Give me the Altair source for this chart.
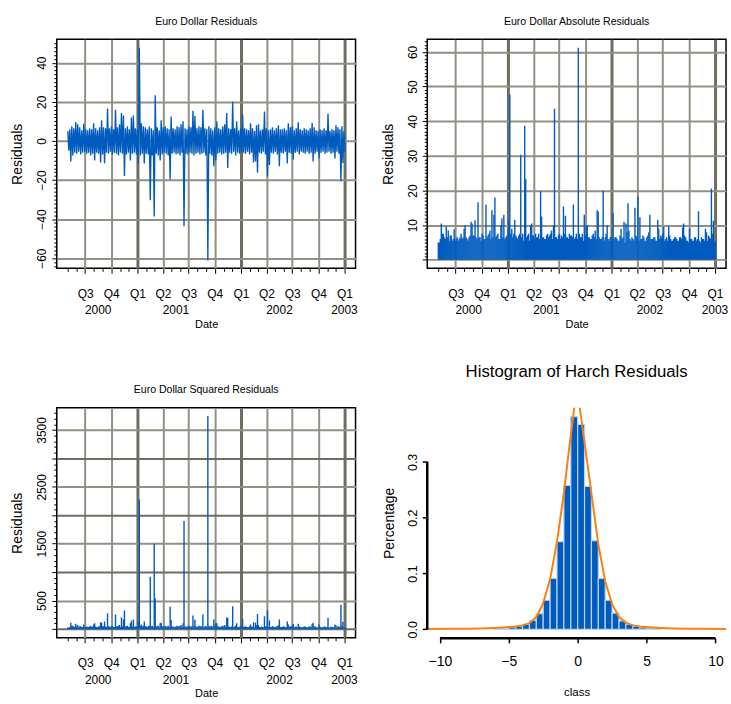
import altair as alt
import pandas as pd

NARROW = "Liberation Sans, Arial, sans-serif"
REGULAR = "Liberation Sans, Arial, sans-serif"
BLUE = "#005bbf"
ORANGE = "#f7820f"
GRID_Q = "#909085"
GRID_Y = "#6d6d62"

# ---------------- data ----------------
# weekly envelope of the Euro Dollar residuals (high, low), weeks from series_start
series_start = "2000-05-01"
week_high = [
    5.0, 6.0, 7.5, 6.5, 9.7, 8.5, 7.0, 5.5, 8.8, 6.0,
    5.5, 6.5, 6.0, 9.0, 6.5, 5.5, 7.0, 10.5, 7.0, 6.5,
    16.6, 6.5, 7.5, 6.0, 16.0, 7.0, 8.5, 14.3, 13.0, 6.5,
    7.5, 6.0, 12.0, 13.0, 6.5, 6.0, 47.7, 9.0, 7.5, 7.0,
    6.0, 7.5, 6.5, 5.5, 23.3, 7.0, 5.5, 10.5, 7.0, 7.5,
    6.5, 6.0, 12.5, 6.5, 6.0, 7.5, 7.0, 8.5, 10.0, 6.5,
    6.0, 7.5, 7.0, 15.4, 12.7, 6.5, 7.5, 7.0, 16.0, 6.5,
    6.0, 7.5, 6.5, 5.5, 7.0, 10.0, 6.5, 6.0, 7.5, 8.5,
    14.3, 6.5, 6.0, 20.0, 6.5, 10.0, 5.5, 6.5, 13.5, 6.5,
    6.0, 5.5, 9.0, 6.5, 5.0, 8.0, 8.5, 5.5, 6.0, 15.0,
    6.5, 5.5, 6.0, 7.0, 5.5, 6.5, 8.0, 6.0, 6.0, 6.5,
    5.5, 9.0, 7.0, 7.5, 5.5, 6.5, 9.6, 6.0, 5.5, 6.5,
    6.0, 5.5, 6.5, 9.3, 7.0, 5.5, 5.0, 6.0, 5.5, 6.5,
    5.5, 14.0, 5.0, 6.0, 5.5, 8.0, 7.0, 6.0, 7.5, 5.0,
]
week_low = [
    -5.0, -10.5, -7.5, -6.0, -6.5, -5.5, -7.0, -6.0, -5.5, -6.5,
    -6.0, -7.5, -6.5, -10.0, -6.0, -6.5, -11.0, -7.0, -11.4, -6.0,
    -6.5, -5.5, -7.0, -6.0, -6.5, -7.5, -6.0, -6.5, -18.0, -7.0,
    -6.0, -10.0, -6.5, -6.0, -7.0, -11.4, -7.5, -6.5, -11.5, -6.5,
    -7.0, -30.3, -7.5, -38.7, -6.5, -7.5, -10.0, -7.0, -6.0, -6.5,
    -7.5, -19.8, -6.5, -6.0, -7.0, -6.5, -7.5, -6.0, -43.6, -6.5,
    -7.0, -6.0, -6.5, -7.5, -6.5, -6.0, -7.0, -6.5, -6.0, -7.5,
    -61.2, -6.5, -7.5, -13.0, -10.0, -6.5, -6.0, -7.0, -6.5, -6.0,
    -13.9, -6.0, -6.5, -5.5, -7.5, -6.0, -6.5, -5.5, -6.0, -6.5,
    -5.5, -7.0, -6.0, -11.0, -10.5, -16.3, -6.0, -6.5, -5.5, -7.0,
    -18.2, -12.3, -6.0, -6.5, -5.5, -7.0, -13.0, -6.0, -6.5, -5.5,
    -11.5, -6.0, -6.5, -9.5, -6.0, -5.5, -7.0, -5.5, -6.0, -6.5,
    -5.5, -6.5, -6.0, -10.5, -6.5, -5.5, -9.0, -6.0, -5.5, -6.5,
    -6.0, -5.5, -6.5, -6.0, -9.0, -5.5, -6.5, -20.6, -11.3, -5.5,
]

x_domain = ["2000-03-23", "2003-02-09"]
month_tick_start = "2000-05-01"
month_tick_end = "2003-01-01"
quarter_ticks = ["2000-07-01", "2000-10-01", "2001-01-01", "2001-04-01", "2001-07-01",
                 "2001-10-01", "2002-01-01", "2002-04-01", "2002-07-01", "2002-10-01",
                 "2003-01-01"]
year_labels = ["2000", "2001", "2002", "2003"]

resid_domain = [-65.2, 52.0]
abs_domain = [-2.45, 63.65]
sq_domain = [-155, 3890]

# histogram of HARCH residuals
bin_width = 0.5
hist_start = [-6.0, -5.5, -5.0, -4.5, -4.0, -3.5, -3.0, -2.5, -2.0, -1.5, -1.0, -0.5,
              0.0, 0.5, 1.0, 1.5, 2.0, 2.5, 3.0, 3.5, 4.0, 4.5, 5.0, 5.5]
hist_pct = [0.001, 0.002, 0.004, 0.005, 0.009, 0.016, 0.028, 0.052, 0.091, 0.157, 0.258, 0.381,
            0.367, 0.256, 0.159, 0.091, 0.052, 0.029, 0.015, 0.009, 0.005, 0.003, 0.002, 0.001]
dens_x = [-10.9, -9.0, -8.0, -7.0, -6.0, -5.0, -4.5, -4.0, -3.5, -3.0, -2.5, -2.0, -1.5, -1.0,
          -0.6, -0.24, 0.0, 0.14, 0.5, 1.0, 1.5, 2.0, 2.5, 3.0, 3.5, 4.0, 4.5, 5.0, 6.0, 7.0,
          8.0, 9.0, 10.8]
dens_y = [0.0005, 0.0008, 0.001, 0.0015, 0.0025, 0.004, 0.005, 0.007, 0.011, 0.022, 0.047,
          0.090, 0.157, 0.245, 0.328, 0.399, 0.400, 0.399, 0.335, 0.243, 0.152, 0.086, 0.045,
          0.022, 0.012, 0.007, 0.005, 0.004, 0.0025, 0.0015, 0.001, 0.0008, 0.0005]
hist_xdomain = [-10.92, 10.77]
hist_ydomain = [-0.0153, 0.397]
hist_xticks = [-10, -5, 0, 5, 10]
hist_yticks = [0.0, 0.1, 0.2, 0.3]

# ---------------- tables ----------------
ISO = "%Y-%m-%dT%H:%M:%SZ"
t0 = pd.Timestamp(series_start)
rows = []
for i, (h, l) in enumerate(zip(week_high, week_low)):
    rows.append({"t": (t0 + pd.Timedelta(days=7 * i)).strftime(ISO), "r": h})
    rows.append({"t": (t0 + pd.Timedelta(days=7 * i + 3.5)).strftime(ISO), "r": l})
ts_df = pd.DataFrame(rows)

qt = pd.to_datetime(quarter_ticks)
year_df = pd.DataFrame({
    "t": [qt[qt.year == int(y)].mean().strftime(ISO) for y in year_labels],
    "label": year_labels,
})

hist_df = pd.DataFrame({"start": hist_start,
                        "end": [s + bin_width for s in hist_start],
                        "pct": hist_pct})
dens_df = pd.DataFrame({"x": dens_x, "y": dens_y})

W, H1, H2 = 300, 230, 231


def dt(s):
    ts = pd.Timestamp(s)
    return alt.DateTime(year=ts.year, month=ts.month, date=ts.day, utc=True)


x_dom = [dt(x_domain[0]), dt(x_domain[1])]
month_vals = [dt(d) for d in pd.date_range(month_tick_start, month_tick_end, freq="MS")]

QTEST = "utcmonth(datum.value) % 3 == 0"
YTEST = "utcmonth(datum.value) == 0"


def time_axis():
    return alt.Axis(
        values=month_vals, title="Date", titleFont=NARROW, titleFontSize=11,
        titleFontWeight="normal", titleColor="black", titleY=56, titleBaseline="middle",
        labelExpr=f"({QTEST}) ? 'Q' + utcquarter(datum.value) : ''",
        labelFont=NARROW, labelFontSize=12, labelColor="black", labelPadding=15,
        labelOverlap=False, labelFlush=False,
        domain=False, ticks=True, tickColor="black", tickWidth=1,
        tickSize={"condition": {"test": QTEST, "value": 5}, "value": 3},
        grid=True,
        gridColor={"condition": {"test": YTEST, "value": GRID_Y}, "value": GRID_Q},
        gridWidth={"condition": {"test": YTEST, "value": 3}, "value": 2},
        gridOpacity={"condition": {"test": QTEST, "value": 1}, "value": 0},
    )


def value_axis(vals, major, label_test, h, dark_test=None):
    gcolor = GRID_Q if dark_test is None else {"condition": {"test": dark_test, "value": GRID_Y}, "value": GRID_Q}
    return alt.Axis(
        values=vals, title="Residuals", titleFont=REGULAR, titleFontSize=14,
        titleFontWeight="normal", titleColor="black", titleX=-39, titleY=h / 2,
        titleAngle=270, titleAlign="center", titleBaseline="middle",
        labelExpr=f"({label_test}) ? format(datum.value, 'd') : ''",
        labelFont=NARROW, labelFontSize=12, labelColor="black", labelAngle=270,
        labelAlign="center", labelBaseline="bottom", labelPadding=3,
        labelOverlap=False, labelFlush=False,
        domain=False, tickColor="black", tickWidth=1,
        tickSize={"condition": {"test": major, "value": 5}, "value": 3},
        grid=True, gridColor=gcolor, gridWidth=2,
        gridOpacity={"condition": {"test": major, "value": 1}, "value": 0},
    )


def ttl(text, size, offset):
    return alt.Title(text, font=NARROW, fontSize=size, fontWeight="normal",
                     color="black", offset=offset, anchor="middle")


frame = alt.ViewBackground(stroke="black", strokeWidth=1.5)


def x_enc():
    return alt.X("t:T", scale=alt.Scale(domain=x_dom), axis=time_axis())


def years_layer(h):
    return alt.Chart(year_df).mark_text(
        font=NARROW, fontSize=12, color="black", baseline="middle", align="center"
    ).encode(x=x_enc(), y=alt.value(h + 42), text="label:N")


base = alt.Chart(ts_df)

# panel 1: residuals
p1_line = base.mark_line(color=BLUE, strokeWidth=1.35, clip=True).encode(
    x=x_enc(),
    y=alt.Y("r:Q", scale=alt.Scale(domain=resid_domain, nice=False, zero=False),
            axis=value_axis(list(range(-64, 51, 2)), "datum.value % 20 == 0",
                            "datum.value % 20 == 0", H1)),
)
p1 = alt.layer(p1_line, years_layer(H1)).properties(
    width=W, height=H1, title=ttl("Euro Dollar Residuals", 10.6, 12), view=frame)

# panel 2: absolute residuals
p2_rule = base.transform_calculate(a="abs(datum.r)").mark_rule(
    color=BLUE, strokeWidth=1.4, clip=True).encode(
    x=x_enc(),
    y=alt.Y("a:Q", scale=alt.Scale(domain=abs_domain, nice=False, zero=False),
            axis=value_axis(list(range(0, 64)), "datum.value % 10 == 0",
                            "datum.value % 10 == 0 && datum.value > 0", H1)),
    y2=alt.datum(0),
)
p2 = alt.layer(p2_rule, years_layer(H1)).properties(
    width=W, height=H1, title=ttl("Euro Dollar Absolute Residuals", 10.6, 12), view=frame)

# panel 3: squared residuals
p3_rule = base.transform_calculate(s="datum.r * datum.r").mark_rule(
    color=BLUE, strokeWidth=1.4, clip=True).encode(
    x=x_enc(),
    y=alt.Y("s:Q", scale=alt.Scale(domain=sq_domain, nice=False, zero=False),
            axis=value_axis(list(range(0, 3900, 100)), "datum.value % 500 == 0",
                            "datum.value % 1000 == 500", H2,
                            dark_test="datum.value % 1000 == 0")),
    y2=alt.datum(0),
)
p3 = alt.layer(p3_rule, years_layer(H2)).properties(
    width=W, height=H2, title=ttl("Euro Dollar Squared Residuals", 10.6, 12), view=frame)

# panel 4: histogram
hx_axis = alt.Axis(
    values=hist_xticks, format="d", title="class", titleFont=NARROW, titleFontSize=11.5,
    titleFontWeight="normal", titleColor="black", titleY=55, titleBaseline="middle",
    labelFont=NARROW, labelFontSize=14, labelColor="black", labelPadding=12,
    labelFlush=False, domain=False, tickColor="black", tickSize=5, tickWidth=1.5, grid=False)
hy_axis = alt.Axis(
    values=hist_yticks, format=".1f", title="Percentage", titleFont=REGULAR, titleFontSize=14,
    titleFontWeight="normal", titleColor="black", titleX=-38, titleY=H2 / 2,
    titleAngle=270, titleAlign="center", titleBaseline="middle",
    labelFont=NARROW, labelFontSize=12.5, labelColor="black", labelAngle=270,
    labelAlign="center", labelBaseline="bottom", labelPadding=3, labelFlush=False,
    domain=False, tickColor="black", tickSize=5, tickWidth=1.5, grid=False)

bars = alt.Chart(hist_df).mark_rect(fill=BLUE, stroke="#bcd2ee", strokeWidth=1.2).encode(
    x=alt.X("start:Q", scale=alt.Scale(domain=hist_xdomain, nice=False, zero=False), axis=hx_axis),
    x2="end:Q",
    y=alt.Y("pct:Q", scale=alt.Scale(domain=hist_ydomain, nice=False, zero=False), axis=hy_axis),
    y2=alt.datum(0),
)
curve = alt.Chart(dens_df).mark_line(color=ORANGE, strokeWidth=2, clip=True).encode(
    x="x:Q", y="y:Q")
yline = alt.Chart(pd.DataFrame({"lo": [min(hist_yticks)], "hi": [max(hist_yticks)]})).mark_rule(
    color="black", strokeWidth=2.5).encode(x=alt.value(0), y="lo:Q", y2="hi:Q")
xline = alt.Chart(pd.DataFrame({"lo": [min(hist_xticks)], "hi": [max(hist_xticks)]})).mark_rule(
    color="black", strokeWidth=2.5).encode(y=alt.value(H2 + 0.5), x="lo:Q", x2="hi:Q")
p4 = alt.layer(bars, curve, yline, xline).properties(
    width=W, height=H2, title=ttl("Histogram of Harch Residuals", 16.8, 27),
    view=alt.ViewBackground(strokeOpacity=0))

chart = alt.concat(
    p1, p2, p3, p4, columns=2, spacing={"row": 140, "column": 72}, bounds="flush"
).properties(
    padding={"left": 10, "top": 14, "right": 2, "bottom": 2},
    background="white",
)

chart.save("out.html", embed_options={"renderer": "svg", "actions": False})
